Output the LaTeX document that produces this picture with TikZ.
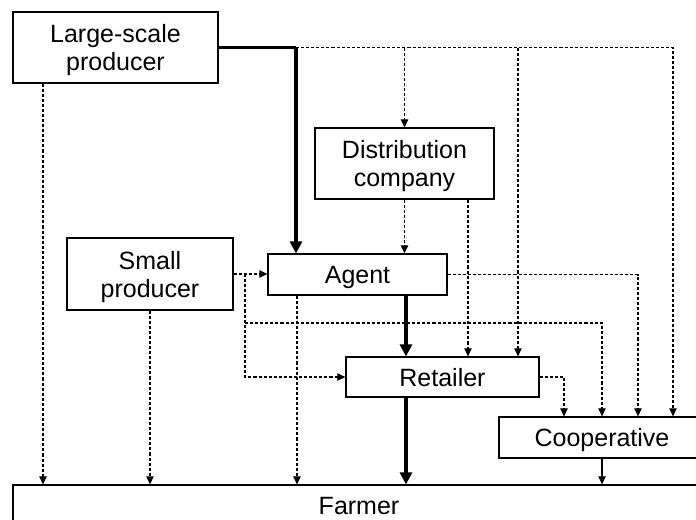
\documentclass[tikz,border=0pt]{standalone}
\usepackage{fontspec}
\setmainfont{Liberation Sans}
\usetikzlibrary{arrows.meta}
\begin{document}
\begin{tikzpicture}[x=0.75pt,y=-0.75pt,
  box/.style 2 args={draw,line width=0.9pt,inner sep=0pt,align=center,
    minimum width=#1*0.75pt,minimum height=#2*0.75pt,
    font=\fontsize{18.75}{21}\selectfont,text depth=0pt},
  dsh/.style={line width=0.8pt,dash pattern=on 2.3pt off 1.5pt,
    -{Triangle[length=6pt,width=5.5pt]}},
  thk/.style={line width=2.3pt,-{Triangle[length=9pt,width=9pt]}},
  thkline/.style={line width=2.3pt},
  thn/.style={line width=0.8pt,-{Triangle[length=6pt,width=5.5pt]}}]
\useasboundingbox (0,0) rectangle (696,519);
\clip (0,0) rectangle (696,519);
% nodes
\node[box={205}{71}] (lsp) at (115.5,47.5) {Large-scale\\producer};
\node[box={179}{71}] (dist) at (404.5,163.5) {Distribution\\company};
\node[box={166}{72}] (small) at (150,274) {Small\\producer};
\node[box={179}{41}] (agent) at (357.5,274.5) {Agent};
\node[box={193}{40}] (ret) at (442.5,377) {Retailer};
\node[box={206}{41}] (coop) at (602,437.5) {Cooperative};
\node[box={692}{42}] (farmer) at (359,506) {Farmer};
% helper coordinates
\coordinate (j1) at (296,47.5);
\coordinate (x43) at (43,0);
\coordinate (x245) at (245,0);
\coordinate (y323) at (0,323);
\coordinate (x297) at (297,0);
\coordinate (x406) at (406,0);
\coordinate (x468) at (468,0);
\coordinate (x518) at (518,0);
\coordinate (x564) at (564,0);
\coordinate (x638) at (638,0);
\coordinate (x673) at (673,0);
% thick main chain
\draw[thkline] (lsp.east) -- (j1);
\draw[thk] (j1) -- (j1 |- agent.north);
\draw[thk] (x406 |- agent.south) -- (x406 |- ret.north);
\draw[thk] (x406 |- ret.south) -- (x406 |- farmer.north);
% top dashed bus
\draw[dsh] (j1) -| (x673 |- coop.north);
\draw[dsh] (dist.north |- lsp.east) -- (dist.north);
\draw[dsh] (x518 |- lsp.east) -- (x518 |- ret.north);
\draw[dsh] (x43 |- lsp.south) -- (x43 |- farmer.north);
% distribution company
\draw[dsh] (dist.south) -- (dist.south |- agent.north);
\draw[dsh] (x468 |- dist.south) -- (x468 |- ret.north);
% small producer
\draw[dsh] (small.east) -- (small.east -| agent.west);
\draw[dsh] (x245 |- small.east) |- (ret.west);
\draw[dsh] (x245 |- y323) -| (coop.north);
\draw[dsh] (small.south) -- (small.south |- farmer.north);
% agent
\draw[dsh] (x297 |- agent.south) -- (x297 |- farmer.north);
\draw[dsh] (agent.east) -| (x638 |- coop.north);
% retailer
\draw[dsh] (ret.east) -| (x564 |- coop.north);
% cooperative
\draw[thn] (coop.south) -- (coop.south |- farmer.north);
\end{tikzpicture}
\end{document}
